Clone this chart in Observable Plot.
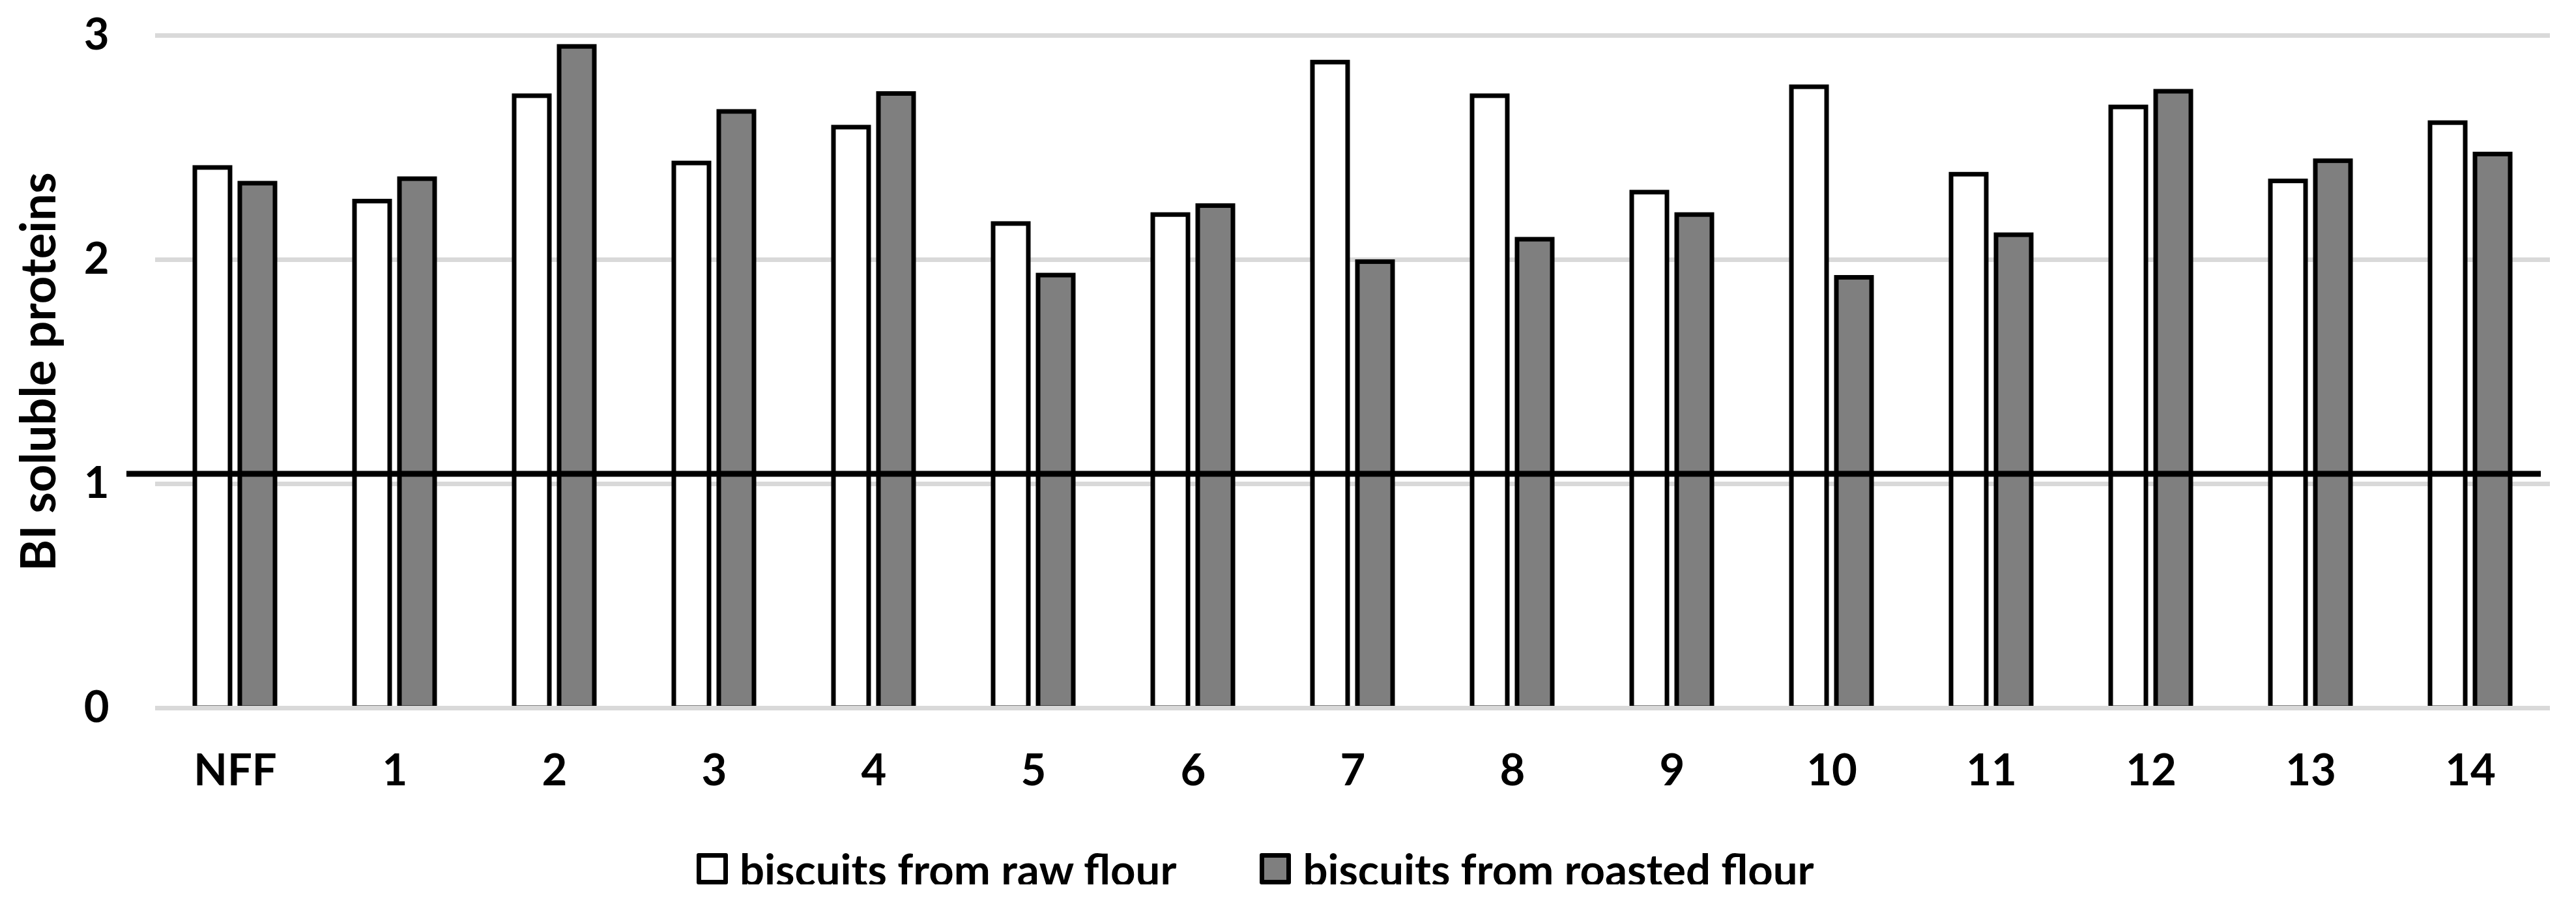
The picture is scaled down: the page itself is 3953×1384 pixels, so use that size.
<!DOCTYPE html>
<html>
<head>
<meta charset="utf-8">
<script src="https://cdn.jsdelivr.net/npm/d3@7"></script>
<script src="https://cdn.jsdelivr.net/npm/@observablehq/plot@0.6"></script>
<style>
  html, body { margin: 0; padding: 0; background: #fff; }
  #chart { width: 3953px; }
  .legend { display: flex; align-items: center; height: 48px; margin-top: 83px; padding-left: 1069px;
            font-family: Lato, sans-serif; font-weight: bold; font-size: 67px; color: #000; }
  .legend .item { display: flex; align-items: center; }
  .legend .item + .item { margin-left: 128px; }
  .legend .sw { width: 48px; height: 48px; box-sizing: border-box; border: 7px solid #000; border-radius: 3px; margin-right: 18px; }
</style>
</head>
<body>
<div id="chart"></div>
<script>
const categories = ["NFF","1","2","3","4","5","6","7","8","9","10","11","12","13","14"];
const series = ["biscuits from raw flour", "biscuits from roasted flour"];
const rawValues = [2.41, 2.26, 2.73, 2.43, 2.59, 2.16, 2.20, 2.88, 2.73, 2.30, 2.77, 2.38, 2.68, 2.35, 2.61];
const roastedValues = [2.34, 2.36, 2.95, 2.66, 2.74, 1.93, 2.24, 1.99, 2.09, 2.20, 1.92, 2.11, 2.75, 2.44, 2.47];
const seriesColors = ["#ffffff", "#7f7f7f"];
const yTicks = [0, 1, 2, 3];
const threshold = 1.045;
const yLabel = "BI soluble proteins";

const data = [];
categories.forEach((c, i) => {
  data.push({cat: c, series: series[0], value: rawValues[i]});
  data.push({cat: c, series: series[1], value: roastedValues[i]});
});
const thr = categories.map(c => ({cat: c, v: threshold}));
const first = thr.slice(0, 1), middle = thr.slice(1, -1), last = thr.slice(-1);

const plot = Plot.plot({
  width: 3953,
  height: 1226,
  marginTop: 54,
  marginBottom: 140,
  marginLeft: 233,
  marginRight: 36,
  style: {fontFamily: "Lato, sans-serif", fontSize: "67px", fontWeight: "bold", color: "#000", background: "#fff", overflow: "visible"},
  fx: {domain: categories, padding: 0, label: null, tickSize: 0, tickPadding: 71},
  x: {domain: series, paddingInner: 0.2143, paddingOuter: 0.8614, axis: null},
  y: {domain: [0, 3], ticks: yTicks, tickFormat: d3.format("d"), tickSize: 0, tickPadding: 71,
      label: yLabel, labelAnchor: "center", labelOffset: 206, labelArrow: "none"},
  color: {domain: series, range: seriesColors},
  marks: [
    Plot.gridY(yTicks.filter(t => t > 0), {stroke: "#d9d9d9", strokeOpacity: 1, strokeWidth: 7}),
    Plot.barY(data, {fx: "cat", x: "series", y: "value", fill: "series", stroke: "#000", strokeWidth: 7}),
    Plot.ruleY([0], {stroke: "#d9d9d9", strokeWidth: 7}),
    Plot.ruleY(first, {fx: "cat", y: "v", stroke: "#000", strokeWidth: 9, insetLeft: -44}),
    Plot.ruleY(middle, {fx: "cat", y: "v", stroke: "#000", strokeWidth: 9}),
    Plot.ruleY(last, {fx: "cat", y: "v", stroke: "#000", strokeWidth: 9, insetRight: 14})
  ]
});
const lab = plot.querySelector('[aria-label="y-axis label"]');
if (lab) lab.setAttribute("font-size", "74");
document.getElementById("chart").appendChild(plot);

const legend = document.createElement("div");
legend.className = "legend";
series.forEach((s, i) => {
  const item = document.createElement("div");
  item.className = "item";
  const sw = document.createElement("div");
  sw.className = "sw";
  sw.style.background = seriesColors[i];
  const t = document.createElement("span");
  t.textContent = s;
  item.appendChild(sw);
  item.appendChild(t);
  legend.appendChild(item);
});
document.body.appendChild(legend);
</script>
</body>
</html>
